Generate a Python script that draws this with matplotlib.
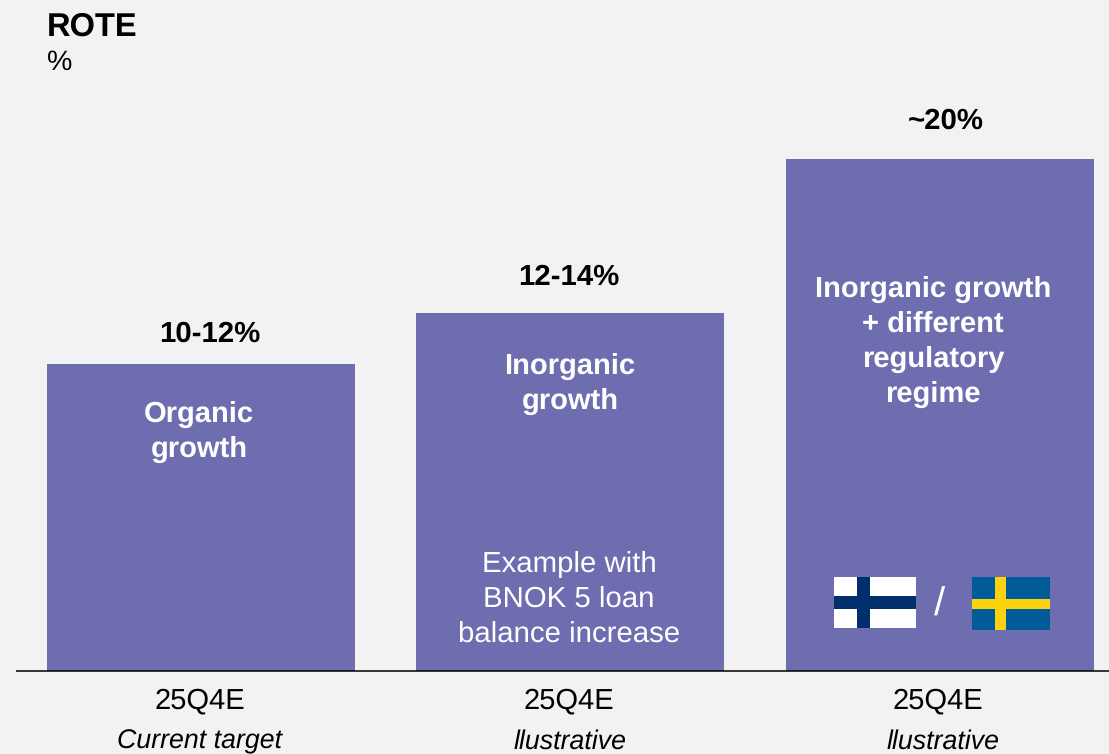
import matplotlib
matplotlib.use('Agg')
import matplotlib.pyplot as plt
from matplotlib.patches import Rectangle

plt.rcParams['font.family'] = ['Liberation Sans', 'DejaVu Sans']
plt.rcParams['text.hinting'] = 'none'

# bar heights (pixels above the baseline)
heights = [307, 358, 512]
top_labels = ['10-12%', '12-14%', '~20%']
bar_titles = [['Organic', 'growth'],
              ['Inorganic', 'growth'],
              ['Inorganic growth', '+ different', 'regulatory', 'regime']]
periods = ['25Q4E', '25Q4E', '25Q4E']
notes = ['Current target', 'llustrative', 'llustrative']
example_lines = ['Example with', 'BNOK 5 loan', 'balance increase']

W, H = 1109, 754
BASE = 671
LEFTS = [47, 416, 786]
BAR_W = 308
LINE_STEP = 35
BG = '#f2f2f2'
BAR_COL = '#6d6db0'

fig = plt.figure(figsize=(W / 100, H / 100), dpi=100, facecolor=BG)
ax = fig.add_axes([0, 0, 1, 1])
ax.set_xlim(0, W)
ax.set_ylim(H, 0)
ax.axis('off')


def put_lines(x, y, lines, **kw):
    # one text per line so the line pitch stays the same as the slide
    for i, s in enumerate(lines):
        ax.text(x, y + i * LINE_STEP, s, ha='center', va='center_baseline', **kw)


def flag(x, y, w, h, bg, cross, vx, vw, hy, hh):
    ax.add_patch(Rectangle((x, y), w, h, fc=bg, ec='none'))
    ax.add_patch(Rectangle((vx, y), vw, h, fc=cross, ec='none'))
    ax.add_patch(Rectangle((x, hy), w, hh, fc=cross, ec='none'))


# text centres are not quite the bar centres on the slide
label_x = [210, 569, 946]
title_x = [199, 570, 933]
period_x = [200, 569, 938]
note_x = [200, 570, 943]
label_y = [331, 274, 118]
title_y = [411, 363, 286]

for i in range(3):
    ax.add_patch(Rectangle((LEFTS[i], BASE - heights[i]), BAR_W, heights[i], fc=BAR_COL, ec='none'))
    ax.text(label_x[i], label_y[i], top_labels[i], ha='center', va='center_baseline',
            fontsize=21.2, fontweight='bold', color='black')
    put_lines(title_x[i], title_y[i], bar_titles[i], fontsize=21, fontweight='bold', color='white')
    ax.text(period_x[i], 698, periods[i], ha='center', va='center_baseline', fontsize=21, color='black')
    ax.text(note_x[i], 739, notes[i], ha='center', va='center_baseline', fontsize=19.3, style='italic', color='black')

ax.plot([16, W], [BASE, BASE], color='black', lw=1.1, solid_capstyle='butt')

put_lines(569, 561, example_lines, fontsize=21.2, color='white')

ax.text(47, 24, 'ROTE', ha='left', va='center_baseline', fontsize=23.5, fontweight='bold', color='black')
ax.text(47, 60, '%', ha='left', va='center_baseline', fontsize=20.5, color='black')

# flags and the slash between them
flag(834, 577, 82, 51, 'white', '#002f6c', 857, 13, 596, 13)
flag(972, 577, 78, 53, '#005b99', '#fdd20f', 995, 11, 599, 10)
ax.text(940, 601, '/', ha='center', va='center_baseline', fontsize=29, color='white')

fig.savefig('out.png', dpi=100, facecolor=BG)
